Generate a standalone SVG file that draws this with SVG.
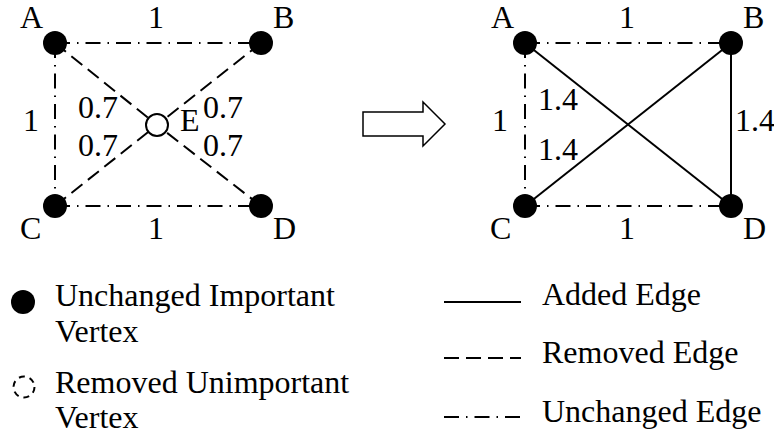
<svg xmlns="http://www.w3.org/2000/svg" width="774" height="442" viewBox="0 0 774 442">
  <style>
    text { font-family: "Liberation Serif", "Times New Roman", serif; font-size: 32px; fill: #000; }
    .edge { stroke: #000; stroke-width: 2; fill: none; }
    .removed { stroke-dasharray: 14 7; }
    .unchanged { stroke-dasharray: 15 7 1.5 7; }
    .vertex { fill: #000; }
    .gone { fill: #fff; stroke: #000; stroke-width: 2; }
    .gone-legend { fill: none; stroke: #000; stroke-width: 2; stroke-dasharray: 6 5; }
  </style>

  <!-- Before: graph with vertex E -->
  <g id="before">
    <g id="before-edges">
      <line class="edge unchanged" x1="55" y1="43" x2="261" y2="43"/>
      <line class="edge unchanged" x1="55" y1="206" x2="261" y2="206"/>
      <line class="edge unchanged" x1="55" y1="43" x2="55" y2="206"/>
      <line class="edge removed" x1="55" y1="43" x2="157" y2="125"/>
      <line class="edge removed" x1="261" y1="43" x2="157" y2="125"/>
      <line class="edge removed" x1="55" y1="206" x2="157" y2="125"/>
      <line class="edge removed" x1="261" y1="206" x2="157" y2="125"/>
    </g>
    <g id="before-A"><circle class="vertex" cx="55" cy="43" r="12"/><text x="20" y="28">A</text></g>
    <g id="before-B"><circle class="vertex" cx="261" cy="43" r="12"/><text x="273" y="28">B</text></g>
    <g id="before-C"><circle class="vertex" cx="55" cy="206" r="12"/><text x="20" y="239">C</text></g>
    <g id="before-D"><circle class="vertex" cx="261" cy="206" r="12"/><text x="273" y="239">D</text></g>
    <g id="before-E"><circle class="gone" cx="157" cy="125" r="11"/><text x="180" y="131">E</text></g>
    <g id="before-weights">
      <text x="148" y="28">1</text>
      <text x="148" y="239">1</text>
      <text x="23" y="131">1</text>
      <text x="78" y="118">0.7</text>
      <text x="78" y="156">0.7</text>
      <text x="203" y="118">0.7</text>
      <text x="203" y="156">0.7</text>
    </g>
  </g>

  <!-- Transition arrow -->
  <g id="arrow">
    <polygon points="363,112 423,112 423,102 445,124 423,146 423,136 363,136" fill="#fff" stroke="#000" stroke-width="1.5"/>
  </g>

  <!-- After: E contracted, shortcut edges added -->
  <g id="after">
    <g id="after-edges">
      <line class="edge unchanged" x1="525" y1="43" x2="731" y2="43"/>
      <line class="edge unchanged" x1="525" y1="206" x2="731" y2="206"/>
      <line class="edge unchanged" x1="525" y1="43" x2="525" y2="206"/>
      <line class="edge" x1="525" y1="43" x2="731" y2="206"/>
      <line class="edge" x1="731" y1="43" x2="525" y2="206"/>
      <line class="edge" x1="731" y1="43" x2="731" y2="206"/>
    </g>
    <g id="after-A"><circle class="vertex" cx="525" cy="43" r="12"/><text x="491" y="28">A</text></g>
    <g id="after-B"><circle class="vertex" cx="731" cy="43" r="12"/><text x="743" y="28">B</text></g>
    <g id="after-C"><circle class="vertex" cx="525" cy="206" r="12"/><text x="490" y="239">C</text></g>
    <g id="after-D"><circle class="vertex" cx="731" cy="206" r="12"/><text x="743" y="239">D</text></g>
    <g id="after-weights">
      <text x="619" y="28">1</text>
      <text x="619" y="239">1</text>
      <text x="492" y="131">1</text>
      <text x="538" y="110">1.4</text>
      <text x="538" y="160">1.4</text>
      <text x="735" y="131">1.4</text>
    </g>
  </g>

  <!-- Legend -->
  <g id="legend">
    <g id="legend-important">
      <circle class="vertex" cx="23" cy="302" r="12"/>
      <text x="55" y="306">Unchanged Important</text>
      <text x="55" y="342">Vertex</text>
    </g>
    <g id="legend-unimportant">
      <circle class="gone-legend" cx="24" cy="387" r="10.5"/>
      <text x="55" y="393">Removed Unimportant</text>
      <text x="55" y="428">Vertex</text>
    </g>
    <g id="legend-added">
      <line class="edge" x1="444" y1="302" x2="521" y2="302"/>
      <text x="542" y="305">Added Edge</text>
    </g>
    <g id="legend-removed">
      <line class="edge" stroke-dasharray="15 7" x1="444" y1="358" x2="521" y2="358"/>
      <text x="542" y="363">Removed Edge</text>
    </g>
    <g id="legend-unchanged">
      <line class="edge" stroke-dasharray="15 7 1.5 7" x1="444" y1="417" x2="521" y2="417"/>
      <text x="542" y="422">Unchanged Edge</text>
    </g>
  </g>
</svg>
